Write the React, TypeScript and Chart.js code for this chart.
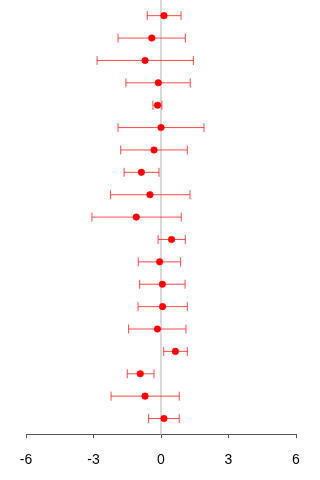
import React, { useEffect, useRef } from "react";
import { Chart, registerables } from "chart.js";

Chart.register(...registerables);

// One row per study, top to bottom
const rows = [1, 2, 3, 4, 5, 6, 7, 8, 9, 10, 11, 12, 13, 14, 15, 16, 17, 18, 19];
const estimates = [0.13, -0.41, -0.71, -0.12, -0.15, 0.0, -0.31, -0.87, -0.49, -1.1, 0.47, -0.06, 0.06, 0.07, -0.16, 0.64, -0.92, -0.71, 0.13];
const lowerCI = [-0.61, -1.91, -2.84, -1.56, -0.36, -1.91, -1.79, -1.64, -2.25, -3.07, -0.13, -1.01, -0.95, -1.02, -1.44, 0.12, -1.5, -2.22, -0.55];
const upperCI = [0.89, 1.08, 1.44, 1.3, 0.04, 1.91, 1.17, -0.09, 1.29, 0.9, 1.08, 0.87, 1.07, 1.17, 1.11, 1.17, -0.31, 0.81, 0.81];
const xTicks = [-6, -3, 0, 3, 6];

const refLinePlugin = {
  id: "refLine",
  beforeDatasetsDraw(chart: any) {
    const { ctx, chartArea, scales } = chart;
    const x = scales.x.getPixelForValue(0);
    ctx.save();
    ctx.strokeStyle = "#d9d9d9";
    ctx.lineWidth = 2;
    ctx.beginPath();
    ctx.moveTo(x, 0);
    ctx.lineTo(x, chartArea.bottom);
    ctx.stroke();

    // confidence intervals with end caps
    ctx.strokeStyle = "rgba(255, 30, 30, 0.8)";
    ctx.lineWidth = 1;
    rows.forEach((r, i) => {
      const y = scales.y.getPixelForValue(r);
      const x1 = scales.x.getPixelForValue(lowerCI[i]);
      const x2 = scales.x.getPixelForValue(upperCI[i]);
      ctx.beginPath();
      ctx.moveTo(x1, y);
      ctx.lineTo(x2, y);
      ctx.moveTo(x1, y - 4.5);
      ctx.lineTo(x1, y + 4.5);
      ctx.moveTo(x2, y - 4.5);
      ctx.lineTo(x2, y + 4.5);
      ctx.stroke();
    });
    ctx.restore();
  },
};

export default function App() {
  const canvasRef = useRef<HTMLCanvasElement | null>(null);

  useEffect(() => {
    if (!canvasRef.current) return;
    const chart = new Chart(canvasRef.current, {
      type: "scatter",
      data: {
        datasets: [
          {
            data: rows.map((r, i) => ({ x: estimates[i], y: r })),
            backgroundColor: "#ff0000",
            borderColor: "#ff0000",
            borderWidth: 0.5,
            pointRadius: 3.3,
            pointHoverRadius: 3.3,
          },
        ],
      },
      options: {
        animation: false,
        responsive: false,
        maintainAspectRatio: false,
        layout: { autoPadding: false, padding: { left: 26, right: 24, top: 0, bottom: -3 } },
        plugins: { legend: { display: false }, tooltip: { enabled: false } },
        scales: {
          x: {
            type: "linear",
            min: -6,
            max: 6,
            afterBuildTicks: (axis: any) => {
              axis.ticks = xTicks.map((v) => ({ value: v }));
            },
            grid: { drawOnChartArea: false, drawTicks: true, tickLength: 4, color: "#555555" },
            border: { display: true, color: "#555555", width: 1 },
            ticks: {
              color: "#000000",
              padding: 14,
              maxRotation: 0,
              font: { family: "'Liberation Sans', Arial, sans-serif", size: 14 },
            },
          },
          y: {
            type: "linear",
            min: 0.3,
            max: 19.7,
            reverse: true,
            display: false,
          },
        },
      },
      plugins: [refLinePlugin],
    });
    return () => chart.destroy();
  }, []);

  return (
    <div style={{ position: "fixed", left: 0, top: 0, width: 320, height: 480, background: "#fff", overflow: "hidden" }}>
      <canvas ref={canvasRef} width={320} height={480} style={{ width: 320, height: 480 }} />
    </div>
  );
}
